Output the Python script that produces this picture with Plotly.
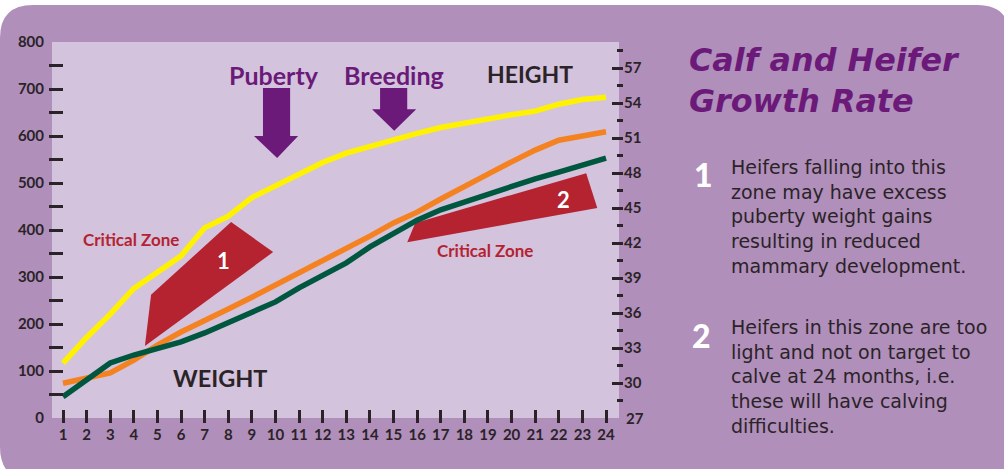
import plotly.graph_objects as go

W, H = 1004, 469

# ---------------- data ----------------
months = list(range(1, 25))
height_in = [31.7, 33.9, 35.9, 38.1, 39.5, 40.9, 43.3, 44.3, 45.9, 46.9, 47.9, 48.9,
             49.7, 50.3, 50.8, 51.4, 51.9, 52.3, 52.6, 53.0, 53.3, 53.9, 54.3, 54.5]
weight_orange = [74, 85, 96, 123, 155, 183, 209, 232, 257, 283, 309, 332,
                 360, 387, 415, 438, 466, 494, 519, 545, 570, 591, 600, 609]
weight_green = [45, 81, 117, 134, 149, 162, 181, 202, 226, 247, 277, 304,
                330, 364, 394, 421, 443, 460, 477, 494, 509, 523, 538, 553]

weight_ticks = list(range(0, 801, 100))
weight_minor = list(range(50, 800, 50))
height_ticks = list(range(30, 58, 3))
height_minor = [28.5 + 3 * i for i in range(11)]

zone1_months = [4.73, 8.12, 9.90, 4.47]
zone1_weights = [262, 417, 353, 153]
zone2_months = [15.92, 23.16, 23.63, 15.58]
zone2_weights = [415, 521, 447, 374]

# block arrows (month / weight)
puberty_arrow_x = [9.47, 10.62, 10.62, 10.96, 10.07, 9.09, 9.47]
puberty_arrow_y = [702, 702, 600, 600, 553, 600, 600]
breeding_arrow_x = [14.43, 15.58, 15.58, 15.96, 15.03, 14.09, 14.43]
breeding_arrow_y = [702, 702, 657, 657, 611, 657, 657]

title_lines = ["Calf and Heifer", "Growth Rate"]
note1_lines = ["Heifers falling into this", "zone may have excess", "puberty weight gains",
               "resulting in reduced", "mammary development."]
note2_lines = ["Heifers in this zone are too", "light and not on target to",
               "calve at 24 months, i.e.", "these will have calving", "difficulties."]

# ---------------- styles ----------------
OUTER = "#B08FBB"
PLOT_BG = "#D3C3DD"
DARK = "#2B2327"
PURPLE = "#6B1A79"
RED = "#B52230"
FONT = "Lato"


def pxx(x):
    return x / W


def pyy(y):
    return 1 - y / H


def rounded_rect(x0, y0, x1, y1, r):
    pts = [
        ("M", [(x0 + r, y0)]), ("L", [(x1 - r, y0)]), ("Q", [(x1, y0), (x1, y0 + r)]),
        ("L", [(x1, y1 - r)]), ("Q", [(x1, y1), (x1 - r, y1)]), ("L", [(x0 + r, y1)]),
        ("Q", [(x0, y1), (x0, y1 - r)]), ("L", [(x0, y0 + r)]), ("Q", [(x0, y0), (x0 + r, y0)]),
    ]
    s = ""
    for cmd, ps in pts:
        s += cmd + " ".join(f"{pxx(a):.5f},{pyy(b):.5f}" for a, b in ps) + " "
    return s + "Z"


def poly_path(xs, ys):
    s = "M" + f"{xs[0]},{ys[0]}"
    for x, y in zip(xs[1:], ys[1:]):
        s += f" L{x},{y}"
    return s + " Z"


fig = go.Figure()
fig.add_trace(go.Scatter(x=months, y=height_in, mode="lines", yaxis="y2",
                         line=dict(color="#FFF200", width=5.5), hoverinfo="skip"))
fig.add_trace(go.Scatter(x=months, y=weight_orange, mode="lines",
                         line=dict(color="#F58220", width=5.5), hoverinfo="skip"))
fig.add_trace(go.Scatter(x=months, y=weight_green, mode="lines",
                         line=dict(color="#00573F", width=5.5), hoverinfo="skip"))

shapes = [
    dict(type="path", xref="paper", yref="paper", layer="below",
         path=rounded_rect(0, 5, 1010, 480, 33), fillcolor=OUTER, line=dict(width=0)),
    dict(type="rect", xref="paper", yref="paper", layer="below",
         x0=pxx(52), x1=pxx(619), y0=pyy(418), y1=pyy(42), fillcolor=PLOT_BG, line=dict(width=0)),
    dict(type="path", xref="x", yref="y", layer="below",
         path=poly_path(zone1_months, zone1_weights), fillcolor=RED, line=dict(width=0)),
    dict(type="path", xref="x", yref="y", layer="below",
         path=poly_path(zone2_months, zone2_weights), fillcolor=RED, line=dict(width=0)),
    dict(type="path", xref="x", yref="y", layer="below",
         path=poly_path(puberty_arrow_x, puberty_arrow_y), fillcolor=PURPLE, line=dict(width=0)),
    dict(type="path", xref="x", yref="y", layer="below",
         path=poly_path(breeding_arrow_x, breeding_arrow_y), fillcolor=PURPLE, line=dict(width=0)),
]

ann = []


def data_text(x, y, text, size, color):
    ann.append(dict(x=x, y=y, xref="x", yref="y", text=text,
                    showarrow=False, font=dict(family=FONT, size=size, color=color, weight=700),
                    xanchor="center", yanchor="middle"))


data_text(9.94, 730, "Puberty", 25, PURPLE)
data_text(15.03, 730, "Breeding", 25, PURPLE)
data_text(20.79, 732, "HEIGHT", 23, DARK)
data_text(7.65, 85, "WEIGHT", 23.5, DARK)
data_text(3.88, 379, "Critical Zone", 17, RED)
data_text(18.88, 357, "Critical Zone", 17, RED)
data_text(7.78, 336, "1", 22, "white")
data_text(22.19, 464, "2", 22, "white")

# "27" label on the right axis (no tick mark there)
ann.append(dict(x=pxx(624), y=27, xref="paper", yref="y2", text="27", showarrow=False,
                font=dict(family=FONT, size=15, color=DARK, weight=700),
                xanchor="left", yanchor="middle"))


def paper_text(x, y, text, size, color, family=FONT, xanchor="left", weight=400, style="normal"):
    ann.append(dict(x=pxx(x), y=pyy(y), xref="paper", yref="paper", text=text,
                    showarrow=False, align="left",
                    font=dict(family=family, size=size, color=color, weight=weight, style=style),
                    xanchor=xanchor, yanchor="middle"))


paper_text(687, 80, "<br>".join(title_lines), 31.8, PURPLE, family="DejaVu Sans",
           weight=700, style="italic")
paper_text(703, 174, "1", 32, "white", xanchor="center", weight=900)
paper_text(701, 335, "2", 32, "white", xanchor="center", weight=900)
paper_text(729, 216, "<br>".join(note1_lines), 19, DARK, family="DejaVu Sans")
paper_text(729, 376, "<br>".join(note2_lines), 19, DARK, family="DejaVu Sans")

tickfont = dict(family=FONT, size=15, color=DARK, weight=700)
y_dom = [pyy(418), pyy(42)]
x_dom = [pxx(52), pxx(619)]

fig.update_layout(
    width=W, height=H, autosize=False,
    margin=dict(l=0, r=0, t=0, b=0, pad=0, autoexpand=False),
    paper_bgcolor="white", plot_bgcolor="rgba(0,0,0,0)",
    showlegend=False,
    shapes=shapes, annotations=ann,
    xaxis=dict(domain=x_dom, range=[0.534, 24.55], anchor="free", position=pyy(423),
               tickmode="array", tickvals=months, ticks="inside", ticklen=13, tickwidth=3,
               tickcolor=DARK, tickfont=tickfont, showgrid=False, zeroline=False,
               showline=False, fixedrange=True, ticklabelstandoff=1, automargin=False),
    yaxis=dict(domain=y_dom, range=[0, 800], anchor="free", position=pxx(48),
               tickmode="array", tickvals=weight_ticks, ticks="", tickfont=tickfont,
               showgrid=False, zeroline=False, showline=False, ticklabelstandoff=4,
               automargin=False,
               minor=dict(tickmode="array", tickvals=weight_minor, ticks="inside",
                          ticklen=14, tickwidth=3, tickcolor=DARK, showgrid=False),
               fixedrange=True),
    yaxis2=dict(domain=y_dom, range=[27, 59.23], overlaying="y", side="right",
                anchor="free", position=pxx(623), automargin=False,
                tickmode="array", tickvals=height_ticks, ticks="inside", ticklen=11,
                tickwidth=3, tickcolor=DARK, tickfont=tickfont, showgrid=False,
                zeroline=False, showline=False, ticklabelstandoff=0,
                minor=dict(tickmode="array", tickvals=height_minor, ticks="inside",
                           ticklen=6, tickwidth=3, tickcolor=DARK, showgrid=False),
                fixedrange=True),
)

fig.write_html(
    "out.html",
    config=dict(displayModeBar=False, responsive=False),
    post_script=(
        "var d=document.getElementById('{plot_id}');"
        "d.style.position='fixed';d.style.left='0px';d.style.top='0px';"
        "document.body.style.margin='0px';document.body.style.padding='0px';"
        "document.body.style.overflow='hidden';"
        "document.documentElement.style.overflow='hidden';"
    ),
)
